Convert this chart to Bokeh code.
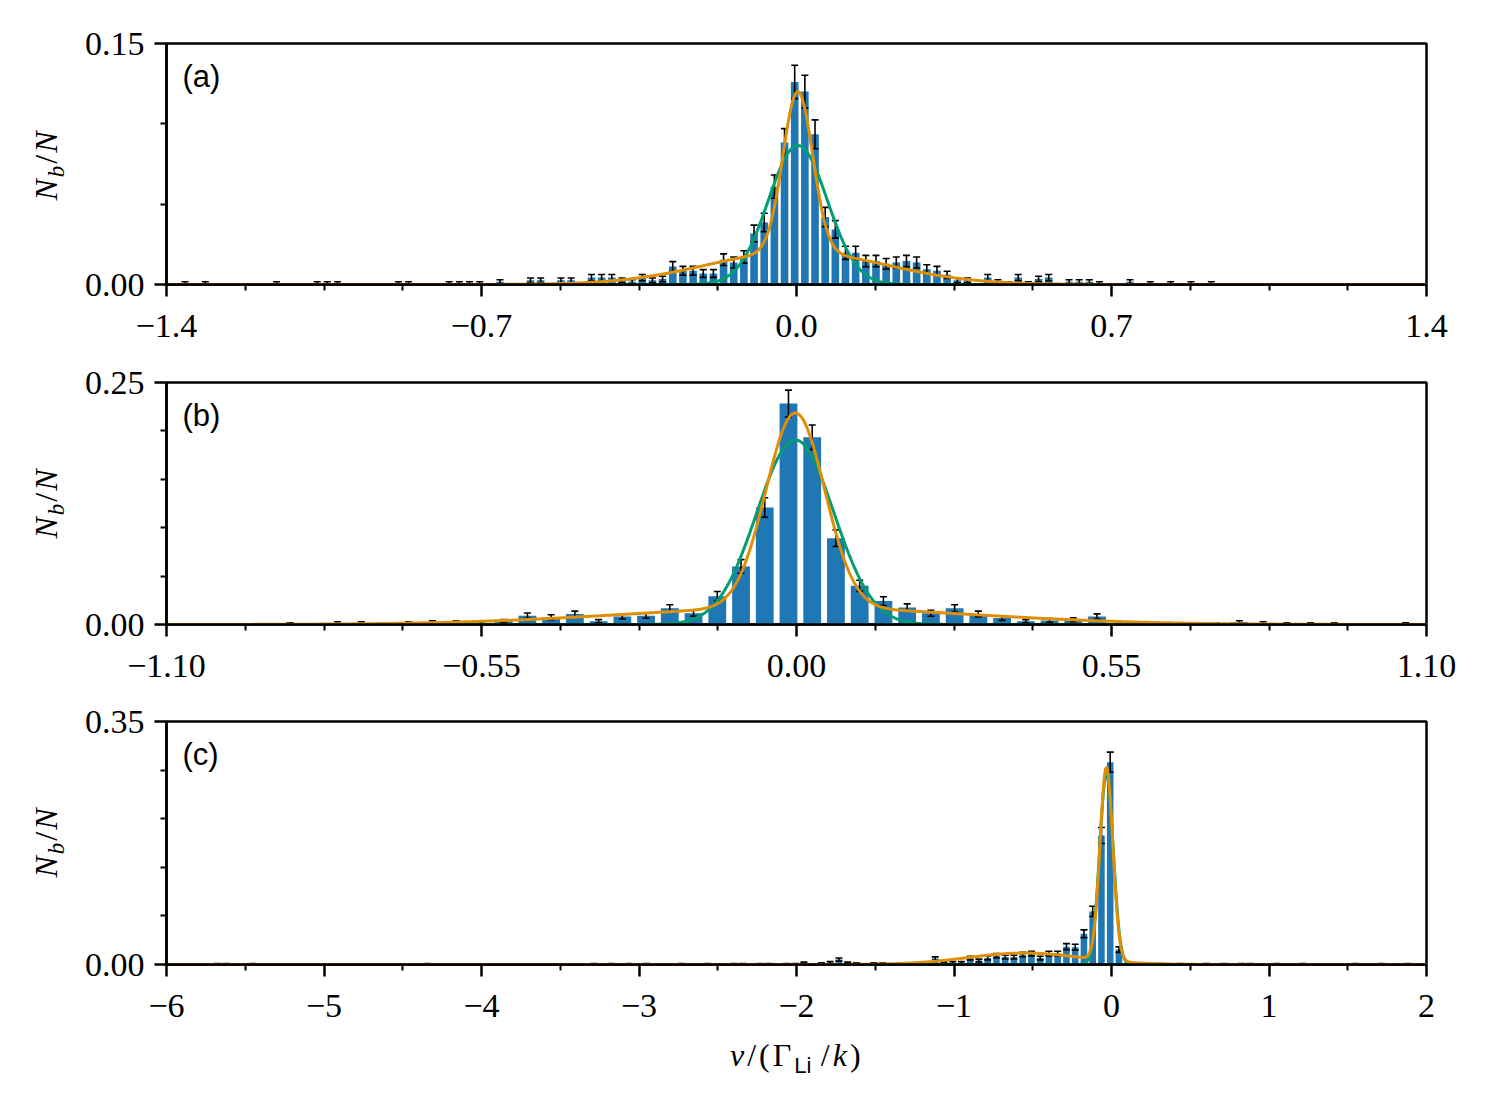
import numpy as np
from bokeh.plotting import figure
from bokeh.layouts import column, row
from bokeh.models import Range1d, FixedTicker, Label, CustomJSTickFormatter, Div
from bokeh.embed import file_html
from bokeh.resources import INLINE

# ---------------- panel (a) ----------------
a_bin_start = -0.0040      # centre of bin with index 0
a_bin_width = 0.02258
a_bin_index = [-60, -58, -51, -47, -46, -45, -39, -38, -34, -33, -32, -31, -29, -26, -25, -23, -22,
               -20, -19, -18, -17, -16,
               -15, -14, -13, -12, -11, -10, -9, -8, -7, -6, -5, -4, -3, -2, -1, 0,
               1, 2, 3, 4, 5, 6, 7, 8, 9, 10, 11, 12, 13, 14, 15, 16,
               17, 19, 20, 21, 22, 23, 24, 25, 27, 28, 29, 30, 33, 35, 37, 39, 41]
a_counts = [1, 1, 1, 1, 1, 1, 1, 1, 1, 1, 1, 1, 2, 3, 3, 3, 3,
            5, 5, 5, 3, 2,
            5, 3, 4, 13, 10, 10, 8, 8, 18, 16, 20, 37, 45, 71, 103, 147,
            140, 109, 49, 40, 23, 23, 17, 17, 15, 16, 17, 16, 11, 10, 7, 3,
            3, 5, 2, 1, 5, 1, 4, 5, 2, 2, 2, 1, 2, 1, 1, 1, 1]
a_total = 1166
a_green = [[0.0865, 0.003, 0.0655]]                         # amplitude, centre, sigma
a_orange = [[0.0997, 0.003, 0.033], [0.0203, 0.0, 0.197]]
a_xticks = [-1.4, -0.7, 0.0, 0.7, 1.4]
a_xlabels = ["\u22121.4", "\u22120.7", "0.0", "0.7", "1.4"]
a_yticks = [0.0, 0.15]
a_ylabels = ["0.00", "0.15"]

# ---------------- panel (b) ----------------
b_bin_start = -0.014
b_bin_width = 0.04144
b_bin_index = [-21, -19, -18, -16, -15, -14, -13, -12, -11, -10,
               -9, -8, -7, -6, -5, -4, -3, -2, -1, 0, 1, 2, 3, 4, 5, 6, 7, 8, 9, 10,
               11, 12, 13, 15, 18, 19, 20, 21, 22, 23, 26]
b_counts = [1, 2, 2, 2, 3, 3, 1, 4, 11, 9,
            13, 4, 10, 11, 20, 14, 35, 72, 145, 274, 232, 107, 48, 29, 21, 14, 20, 13, 8, 4,
            5, 6, 10, 2, 1, 3, 2, 1, 1, 1, 1]
b_total = 1200
b_green = [[0.1906, -0.002, 0.0673]]
b_orange = [[0.2013, -0.002, 0.0513], [0.0172, 0.0, 0.303]]
b_xticks = [-1.10, -0.55, 0.0, 0.55, 1.10]
b_xlabels = ["\u22121.10", "\u22120.55", "0.00", "0.55", "1.10"]
b_yticks = [0.0, 0.25]
b_ylabels = ["0.00", "0.25"]

# ---------------- panel (c) ----------------
c_bin_start = -0.0083
c_bin_width = 0.05556
c_bin_index = [-102, -101, -98, -78, -59, -57, -55, -53, -49, -46, -43, -42, -40, -39, -37, -36,
               -35, -33, -32, -31, -30, -29, -27, -26, -24, -23, -20, -19, -18, -17, -16, -15,
               -14, -13, -12, -11, -10, -9, -8, -7, -6, -5, -4, -3, -2, -1, 0, 1,
               5, 6, 8, 11, 13, 15, 16, 19, 22, 28, 31, 34]
c_counts = [1, 1, 1, 1, 1, 1, 1, 1, 1, 1, 1, 1, 1, 1, 1, 1,
            3, 2, 4, 10, 3, 2, 2, 2, 2, 2, 12, 3, 4, 4, 13, 8,
            13, 18, 15, 15, 20, 22, 13, 22, 22, 36, 35, 62, 107, 260, 408, 30,
            1, 1, 1, 1, 1, 1, 1, 1, 1, 1, 1, 1]
c_total = 1400
c_green = [[0.275, -0.032, 0.043]]
c_orange = [[0.278, -0.032, 0.0405], [0.0165, -0.55, 0.36]]
c_xticks = [-6, -5, -4, -3, -2, -1, 0, 1, 2]
c_xlabels = ["\u22126", "\u22125", "\u22124", "\u22123", "\u22122", "\u22121", "0", "1", "2"]
c_yticks = [0.0, 0.35]
c_ylabels = ["0.00", "0.35"]

BLUE = "#1f77b4"
GREEN = "#029E73"
ORANGE = "#DE8F05"
SERIF = "Liberation Serif"
SANS = "Liberation Sans"
FRAME_W = 1260
DIV_W = 80


def model(x, comps):
    y = np.zeros_like(x)
    for amp, mu, sig in comps:
        y = y + amp * np.exp(-0.5 * ((x - mu) / sig) ** 2)
    return y


def fmt(vals, labs):
    return CustomJSTickFormatter(args=dict(vals=list(map(float, vals)), labs=labs), code="""
        for (let i = 0; i < vals.length; i++) {
            if (Math.abs(tick - vals[i]) < 1e-9) { return labs[i]; }
        }
        return "";
    """)


def minor_between(ticks, n):
    out = []
    for a, b in zip(ticks[:-1], ticks[1:]):
        for j in range(1, n):
            out.append(a + (b - a) * j / n)
    return out


def make_panel(tag, xr, yr, xticks, xlabels, xminor, yticks, ylabels, yminor,
               bin_start, bin_width, idx, counts, total, green, orange,
               fh, btop, bbottom):
    p = figure(frame_width=FRAME_W, frame_height=fh, x_range=Range1d(*xr), y_range=Range1d(*yr),
               output_backend="svg", toolbar_location=None,
               min_border_left=166 - DIV_W, min_border_right=51,
               min_border_top=btop, min_border_bottom=bbottom)
    p.xgrid.visible = False
    p.ygrid.visible = False
    p.background_fill_color = "white"
    p.border_fill_color = "white"
    p.outline_line_color = "black"
    p.outline_line_width = 2.5
    p.outline_line_alpha = 1.0

    p.xaxis.ticker = FixedTicker(ticks=xticks, minor_ticks=xminor)
    p.xaxis.formatter = fmt(xticks, xlabels)
    p.yaxis.ticker = FixedTicker(ticks=yticks, minor_ticks=yminor)
    p.yaxis.formatter = fmt(yticks, ylabels)
    for ax in (p.xaxis[0], p.yaxis[0]):
        ax.axis_line_width = 2.5
        ax.major_tick_line_width = 2.5
        ax.minor_tick_line_width = 2
        ax.major_tick_out = 12
        ax.major_tick_in = 0
        ax.minor_tick_out = 6
        ax.minor_tick_in = 0
        ax.major_label_text_font = SERIF
        ax.major_label_text_font_size = "34px"
        ax.major_label_text_color = "black"
    p.xaxis.major_label_standoff = 18
    p.yaxis.major_label_standoff = 10

    idx = np.array(idx, dtype=float)
    cnt = np.array(counts, dtype=float)
    centers = bin_start + idx * bin_width
    frac = cnt / total
    err = np.sqrt(cnt) / total

    p.vbar(x=centers, top=frac, bottom=0, width=0.75 * bin_width,
           fill_color=BLUE, line_color=None)
    p.segment(x0=centers, y0=frac - err, x1=centers, y1=frac + err,
              line_color="black", line_width=1.6)
    p.scatter(x=centers, y=frac + err, marker="dash", size=7, line_color="black", line_width=1.6)
    p.scatter(x=centers, y=frac - err, marker="dash", size=7, line_color="black", line_width=1.6)

    xs = np.linspace(xr[0], xr[1], 2000)
    p.line(xs, model(xs, green), line_color=GREEN, line_width=3)
    p.line(xs, model(xs, orange), line_color=ORANGE, line_width=3)

    p.add_layout(Label(x=xr[0], y=yr[1], x_offset=16, y_offset=-15, text=tag,
                       text_font=SANS, text_font_size="31px", text_color="black",
                       text_align="left", text_baseline="top"))
    return p


def ylabel_div(height, dx, dy):
    html = ('<span style="display:inline-block; white-space:nowrap; color:black; '
            "font-family:'Liberation Serif'; font-size:32px; line-height:34px; letter-spacing:2px; "
            'transform: translate(%dpx, %dpx) rotate(-90deg);">'
            '<i>N</i><sub style="font-size:23px; line-height:0;"><i>b</i></sub>/<i>N</i></span>'
            % (dx, dy))
    return Div(text=html, width=DIV_W, height=height, margin=0,
               styles={"display": "flex", "align-items": "center", "justify-content": "center",
                       "background-color": "white"})


pa = make_panel("(a)", (-1.4, 1.4), (0.0, 0.15), a_xticks, a_xlabels, minor_between(a_xticks, 4),
                a_yticks, a_ylabels, minor_between(a_yticks, 3),
                a_bin_start, a_bin_width, a_bin_index, a_counts, a_total, a_green, a_orange,
                241, 43, 72)
pb = make_panel("(b)", (-1.1, 1.1), (0.0, 0.25), b_xticks, b_xlabels, minor_between(b_xticks, 4),
                b_yticks, b_ylabels, minor_between(b_yticks, 5),
                b_bin_start, b_bin_width, b_bin_index, b_counts, b_total, b_green, b_orange,
                242, 26, 72)
pc = make_panel("(c)", (-6.0, 2.0), (0.0, 0.35), c_xticks, c_xlabels, minor_between(c_xticks, 2),
                c_yticks, c_ylabels, minor_between(c_yticks, 5),
                c_bin_start, c_bin_width, c_bin_index, c_counts, c_total, c_green, c_orange,
                243, 25, 72)

# figure heights: 43+241+72 = 356, 26+242+72 = 340, 25+243+72 = 340
da = ylabel_div(356, 6, -13)
db = ylabel_div(340, 6, -23)
dc = ylabel_div(340, 6, -24)

xlabel_html = ('<div style="margin-left:730px; padding-top:2px; white-space:nowrap; color:black; '
               "font-family:'Liberation Serif'; font-size:32px; line-height:34px; letter-spacing:3px;\">"
               '<i>v</i>/(\u0393<sub style="font-family:\'Liberation Sans\'; font-size:22px; '
               'line-height:0; letter-spacing:0px;">Li</sub>&thinsp;/<i>k</i>)</div>')
dx = Div(text=xlabel_html, width=166 + FRAME_W + 51, height=64, margin=0,
         styles={"background-color": "white"})

layout = column(row(da, pa, spacing=0), row(db, pb, spacing=0), row(dc, pc, spacing=0), dx,
                spacing=0)
open("out.html", "w").write(file_html(layout, INLINE))
